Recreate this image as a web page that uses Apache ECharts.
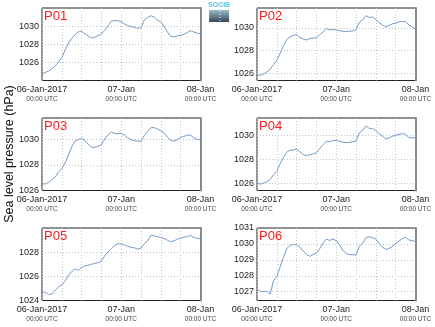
<!DOCTYPE html>
<html>
<head>
<meta charset="utf-8">
<script src="https://cdn.jsdelivr.net/npm/echarts@6/dist/echarts.min.js"></script>
<style>
  html, body { margin: 0; padding: 0; background: #fff; }
  #chart { width: 435px; height: 327px; }
</style>
</head>
<body>
<div id="chart"></div>
<script>
// Hours since 06-Jan-2017 00:00 UTC
const hours = [0,1,2,3,4,5,6,7,8,9,10,11,12,13,14,15,16,17,18,19,20,21,22,23,24,
               25,26,27,28,29,30,31,32,33,34,35,36,37,38,39,40,41,42,43,44,45,46,47,48];

// Sea level pressure (hPa), hourly, one array per station
const p01 = [1024.72,1024.88,1025.05,1025.30,1025.62,1026.05,1026.55,1027.35,1028.10,1028.65,
             1029.05,1029.35,1029.45,1029.15,1028.90,1028.70,1028.78,1028.95,1029.15,1029.55,
             1030.05,1030.55,1030.62,1030.58,1030.50,1030.25,1030.05,1029.95,1029.85,1029.78,
             1029.80,1030.70,1030.95,1031.15,1031.00,1030.65,1030.45,1029.95,1029.35,1028.85,
             1028.82,1028.95,1028.98,1029.10,1029.30,1029.50,1029.35,1029.22,1029.18];
const p02 = [1025.91,1025.80,1025.92,1026.10,1026.35,1026.75,1027.10,1027.75,1028.40,1028.95,
             1029.20,1029.32,1029.42,1029.12,1029.02,1028.92,1029.05,1029.10,1029.12,1029.40,
             1029.62,1029.95,1029.80,1029.86,1029.80,1029.74,1029.70,1029.68,1029.70,1029.72,
             1029.82,1030.50,1030.70,1031.08,1030.92,1030.95,1030.75,1030.45,1030.25,1030.08,
             1030.22,1030.35,1030.42,1030.52,1030.56,1030.55,1030.25,1030.08,1029.88];
const p03 = [1026.49,1026.52,1026.62,1026.85,1027.05,1027.45,1027.70,1028.15,1028.75,1029.40,
             1029.85,1029.98,1030.05,1029.90,1029.60,1029.38,1029.36,1029.45,1029.58,1030.00,
             1030.35,1030.55,1030.45,1030.42,1030.45,1030.30,1030.10,1029.95,1029.88,1029.85,
             1029.82,1030.30,1030.62,1030.90,1030.90,1030.78,1030.65,1030.48,1030.15,1029.90,
             1029.85,1029.98,1030.12,1030.22,1030.30,1030.32,1030.10,1029.98,1029.95];
const p04 = [1026.05,1025.95,1026.05,1026.15,1026.35,1026.72,1027.00,1027.65,1028.15,1028.60,
             1028.75,1028.76,1028.85,1028.62,1028.40,1028.30,1028.38,1028.46,1028.55,1028.90,
             1029.20,1029.50,1029.45,1029.55,1029.58,1029.48,1029.42,1029.38,1029.40,1029.45,
             1029.50,1030.20,1030.40,1030.75,1030.55,1030.55,1030.38,1030.10,1029.90,1029.68,
             1029.76,1029.90,1029.98,1030.06,1030.12,1030.08,1029.78,1029.77,1029.79];
const p05 = [1024.72,1024.67,1024.50,1024.53,1024.85,1025.12,1025.30,1025.62,1026.05,1026.40,
             1026.62,1026.50,1026.72,1026.88,1026.92,1027.00,1027.08,1027.12,1027.28,1027.70,
             1028.02,1028.28,1028.55,1028.70,1028.68,1028.60,1028.48,1028.40,1028.36,1028.25,
             1028.35,1028.70,1028.92,1029.40,1029.35,1029.28,1029.22,1029.12,1028.98,1028.86,
             1028.95,1029.06,1029.16,1029.24,1029.30,1029.38,1029.22,1029.14,1029.11];
const p06 = [1027.15,1027.03,1027.00,1027.02,1026.85,1027.70,1027.95,1028.55,1029.15,1029.70,
             1029.92,1029.96,1029.96,1029.80,1029.55,1029.35,1029.22,1029.34,1029.42,1029.70,
             1030.05,1030.30,1030.22,1030.30,1030.20,1029.95,1029.60,1029.40,1029.33,1029.32,
             1029.32,1029.85,1030.05,1030.40,1030.45,1030.40,1030.30,1030.02,1029.80,1029.65,
             1029.72,1029.85,1030.02,1030.18,1030.32,1030.42,1030.25,1030.20,1030.17];

const stationNames = ['P01', 'P02', 'P03', 'P04', 'P05', 'P06'];
const stationSeries = [p01, p02, p03, p04, p05, p06];

// Pressure tick labels for each panel
const ticks01 = [1026, 1028, 1030];
const ticks02 = [1026, 1028, 1030];
const ticks03 = [1026, 1028, 1030];
const ticks04 = [1026, 1028, 1030];
const ticks05 = [1024, 1026, 1028];
const ticks06 = [1027, 1028, 1029, 1030, 1031];
const stationTicks = [ticks01, ticks02, ticks03, ticks04, ticks05, ticks06];

// Pressure span shown by each panel
const yMin = [1024.0, 1025.35, 1026.0, 1025.43, 1024.0, 1026.45];
const yMax = [1032.0, 1031.75, 1031.65, 1031.41, 1030.0, 1031.0];

// Time axis labels
const dayTicks = [0, 24, 48];
const dayLabels = ['06-Jan-2017', '07-Jan', '08-Jan'];
const timeLabel = '00:00 UTC';

const FONT = 'Liberation Sans, Arial, sans-serif';
const panelLeft = [42, 257];
const panelTop = [8, 118, 228];
const panelW = 158.5;
const panelH = 72.5;

const grids = [], xAxes = [], yAxes = [], series = [], titles = [];

stationNames.forEach((name, i) => {
  const left = panelLeft[i % 2];
  const top = panelTop[Math.floor(i / 2)];
  // dotted grid lines only strictly inside the frame, so the frame stays solid
  const inner = stationTicks[i].filter(v => v > yMin[i] && v < yMax[i]);
  grids.push({
    left: left, top: top, width: panelW, height: panelH,
    show: true, borderColor: '#222', borderWidth: 1, backgroundColor: 'transparent'
  });
  xAxes.push({
    gridIndex: i, type: 'value', min: 0, max: 48, interval: 6,
    axisLine: { show: false }, axisTick: { show: false },
    splitLine: { show: true, lineStyle: { color: '#c4c4c4', type: [1, 2], width: 1 } },
    axisLabel: {
      customValues: dayTicks, margin: 4, hideOverlap: false,
      formatter: v => '{d|' + dayLabels[dayTicks.indexOf(v)] + '}\n{t|' + timeLabel + '}',
      rich: {
        d: { fontSize: 9, color: '#222', fontFamily: FONT, lineHeight: 10 },
        t: { fontSize: 6.5, color: '#444', fontFamily: FONT, lineHeight: 9 }
      }
    }
  });
  yAxes.push({
    gridIndex: i, type: 'value', min: yMin[i], max: yMax[i],
    axisLine: { show: false },
    axisTick: { show: false, customValues: inner },
    axisLabel: {
      customValues: stationTicks[i], fontSize: 9, color: '#222',
      fontFamily: FONT, margin: 3, formatter: v => String(v)
    },
    splitLine: { show: true, lineStyle: { color: '#c4c4c4', type: [1, 2], width: 1 } }
  });
  // heavier grey right-hand frame
  yAxes.push({
    gridIndex: i, type: 'value', position: 'right', min: yMin[i], max: yMax[i],
    axisLine: { show: true, lineStyle: { color: '#8a8a8a', width: 2 } },
    axisTick: { show: false }, axisLabel: { show: false }, splitLine: { show: false }
  });
  series.push({
    type: 'line', xAxisIndex: i, yAxisIndex: 2 * i,
    showSymbol: false, silent: true, animation: false,
    lineStyle: { color: '#739cc8', width: 1 },
    data: hours.map((h, k) => [h, stationSeries[i][k]])
  });
  titles.push({
    text: name, left: left + 2, top: top + 2, padding: 0,
    textStyle: { color: '#ff1a1a', fontSize: 13, fontWeight: 'normal', fontFamily: FONT }
  });
});

const chart = echarts.init(document.getElementById('chart'), null, { renderer: 'canvas' });
chart.setOption({
  animation: false,
  backgroundColor: '#fff',
  title: titles,
  grid: grids,
  xAxis: xAxes,
  yAxis: yAxes,
  series: series,
  graphic: [
    {
      type: 'text', x: 10, y: 154, rotation: Math.PI / 2,
      style: {
        text: 'Sea level pressure (hPa)', fontSize: 12.5, fill: '#111',
        fontFamily: FONT, align: 'center', verticalAlign: 'middle'
      }
    },
    {
      type: 'group', left: 208, top: 2,
      children: [
        {
          type: 'text', x: 10, y: 0,
          style: { text: 'SOCIB', fontSize: 7, fill: '#56c6e0', fontFamily: FONT,
                   fontWeight: 'bold', align: 'center', verticalAlign: 'top' }
        },
        {
          type: 'rect', shape: { x: 0, y: 8, width: 20, height: 12 },
          style: {
            fill: new echarts.graphic.LinearGradient(0, 0, 0, 1, [
              { offset: 0, color: '#9bbccb' },
              { offset: 1, color: '#33475a' }
            ])
          }
        },
        {
          type: 'line', shape: { x1: 11, y1: 9, x2: 11, y2: 19 },
          style: { stroke: '#ffffff', lineWidth: 1, lineDash: [1, 2] }
        }
      ]
    }
  ]
});
</script>
</body>
</html>
